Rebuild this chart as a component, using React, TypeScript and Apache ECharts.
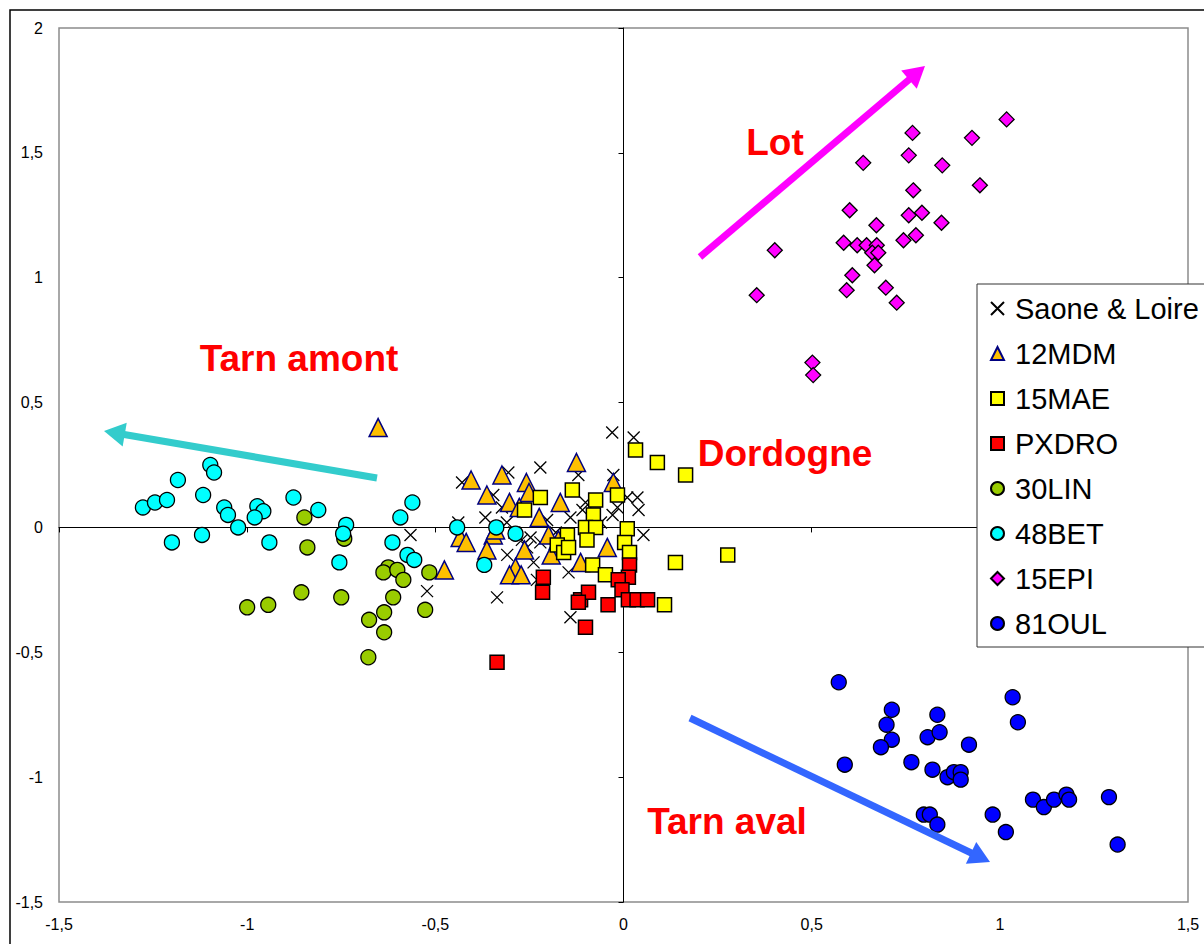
import React, { useEffect, useRef } from "react";
import * as echarts from "echarts";

const seriesNames = ["Saone & Loire", "12MDM", "15MAE", "PXDRO", "30LIN", "48BET", "15EPI", "81OUL"];

const saoneLoire = [
  [-0.03, 0.38], [0.027, 0.36], [-0.221, 0.24], [-0.306, 0.22], [-0.12, 0.21], [-0.429, 0.18], [-0.346, 0.13],
  [-0.027, 0.21], [0.037, 0.12], [0.04, 0.07], [0.01, 0.12], [-0.016, 0.08], [-0.029, 0.05], [-0.101, 0.1],
  [-0.109, 0.07], [-0.141, 0.04], [-0.203, 0.03], [-0.367, 0.04], [-0.439, 0.02], [-0.323, 0.08], [-0.247, -0.04],
  [0.053, -0.03], [-0.309, -0.11], [-0.256, -0.08], [-0.221, -0.06], [-0.239, -0.14], [-0.146, -0.18], [-0.23, -0.21],
  [-0.336, -0.28], [-0.141, -0.36], [-0.566, -0.03], [-0.522, -0.255], [-0.27, -0.05], [-0.29, -0.02], [-0.18, -0.02],
  [-0.06, 0.02], [-0.31, 0.02],
];
const mdm12 = [
  [-0.652, 0.4], [-0.405, 0.19], [-0.323, 0.21], [-0.125, 0.26], [-0.363, 0.13], [-0.303, 0.1], [-0.258, 0.18],
  [-0.251, 0.14], [-0.277, 0.08], [-0.168, 0.1], [-0.027, 0.18], [-0.224, 0.04], [-0.434, -0.04], [-0.418, -0.06],
  [-0.346, -0.03], [-0.363, -0.09], [-0.199, -0.03], [-0.263, -0.09], [-0.192, -0.11], [-0.114, -0.14], [-0.043, -0.08],
  [-0.287, -0.16], [-0.303, -0.19], [-0.272, -0.19], [-0.476, -0.17], [-0.173, -0.05], [-0.34, -0.01],
];
const mae15 = [
  [0.032, 0.31], [0.09, 0.26], [0.165, 0.21], [-0.221, 0.12], [-0.136, 0.15], [-0.263, 0.07], [-0.074, 0.11],
  [-0.08, 0.05], [-0.016, 0.13], [-0.101, 0.0], [-0.074, 0.0], [-0.097, -0.05], [-0.149, -0.03], [-0.176, -0.07],
  [-0.159, -0.1], [-0.146, -0.08], [0.01, -0.005], [0.003, -0.06], [0.016, -0.1], [-0.082, -0.15], [-0.048, -0.19],
  [0.138, -0.14], [0.109, -0.31], [0.277, -0.11],
];
const pxdro = [
  [-0.213, -0.2], [-0.215, -0.26], [-0.114, -0.29], [-0.093, -0.26], [-0.041, -0.31], [-0.101, -0.4], [-0.336, -0.54],
  [0.016, -0.15], [0.013, -0.2], [-0.014, -0.21], [-0.004, -0.25], [0.013, -0.29], [0.036, -0.29], [0.064, -0.29],
  [-0.12, -0.3],
];
const lin30 = [
  [-0.848, 0.04], [-0.84, -0.08], [-0.742, -0.045], [-0.625, -0.16], [-0.638, -0.18], [-0.601, -0.17], [-0.585, -0.21],
  [-0.516, -0.18], [-0.612, -0.28], [-0.527, -0.33], [-0.636, -0.34], [-0.676, -0.37], [-0.636, -0.42], [-0.678, -0.52],
  [-0.75, -0.28], [-0.856, -0.26], [-0.944, -0.31], [-1.0, -0.32],
];
const bet48 = [
  [-1.277, 0.08], [-1.245, 0.1], [-1.213, 0.11], [-1.184, 0.19], [-1.098, 0.25], [-1.088, 0.22], [-1.117, 0.13],
  [-1.061, 0.08], [-1.051, 0.05], [-1.024, 0.0], [-0.973, 0.085], [-0.957, 0.065], [-0.98, 0.04], [-0.877, 0.12],
  [-0.811, 0.07], [-0.737, 0.01], [-0.745, -0.025], [-1.2, -0.06], [-1.12, -0.03], [-0.941, -0.06], [-0.755, -0.14],
  [-0.614, -0.06], [-0.574, -0.11], [-0.556, -0.13], [-0.593, 0.04], [-0.561, 0.1], [-0.442, 0.0], [-0.338, 0.0],
  [-0.287, -0.025], [-0.37, -0.15],
];
const epi15 = [
  [1.018, 1.634], [0.926, 1.56], [0.768, 1.58], [0.758, 1.49], [0.637, 1.46], [0.847, 1.45], [0.947, 1.37],
  [0.77, 1.35], [0.601, 1.27], [0.758, 1.25], [0.793, 1.26], [0.845, 1.22], [0.672, 1.21], [0.777, 1.17],
  [0.744, 1.15], [0.585, 1.14], [0.621, 1.13], [0.646, 1.13], [0.673, 1.13], [0.661, 1.1], [0.677, 1.1],
  [0.402, 1.11], [0.667, 1.05], [0.608, 1.01], [0.593, 0.95], [0.697, 0.96], [0.726, 0.9], [0.354, 0.93],
  [0.502, 0.66], [0.504, 0.61],
];
const oul81 = [
  [0.572, -0.62], [0.713, -0.73], [0.699, -0.79], [0.713, -0.85], [0.684, -0.88], [0.834, -0.75], [0.808, -0.84],
  [0.84, -0.82], [0.918, -0.87], [1.034, -0.68], [1.048, -0.78], [0.588, -0.95], [0.765, -0.94], [0.821, -0.97],
  [0.861, -1.0], [0.878, -0.98], [0.896, -0.98], [0.896, -1.01], [0.798, -1.15], [0.814, -1.15], [0.834, -1.19],
  [0.981, -1.15], [1.016, -1.22], [1.088, -1.09], [1.117, -1.12], [1.144, -1.09], [1.177, -1.07], [1.184, -1.09],
  [1.29, -1.08], [1.313, -1.27],
];

const annotations = [
  { text: "Tarn amont", x: 299, y: 358 },
  { text: "Lot", x: 775, y: 142 },
  { text: "Dordogne", x: 785, y: 453 },
  { text: "Tarn aval", x: 727, y: 821 },
];

const FONT = '"Liberation Sans", Arial, sans-serif';

function arrow(x1: number, y1: number, x2: number, y2: number, color: string) {
  const w = 7, headLen = 21, headW = 12;
  const dx = x2 - x1, dy = y2 - y1;
  const L = Math.hypot(dx, dy);
  const ux = dx / L, uy = dy / L;
  const px = -uy, py = ux;
  const bx = x2 - ux * headLen, by = y2 - uy * headLen;
  return [
    { type: "line", shape: { x1, y1, x2: bx + ux * 2, y2: by + uy * 2 }, style: { stroke: color, lineWidth: w }, z: 10 },
    {
      type: "polygon",
      shape: { points: [[x2, y2], [bx + px * headW, by + py * headW], [bx - px * headW, by - py * headW]] },
      style: { fill: color },
      z: 10,
    },
  ];
}

const fmt = (v: number) => String(v).replace(".", ",");

export default function App() {
  const ref = useRef<HTMLDivElement>(null);
  useEffect(() => {
    const chart = echarts.init(ref.current!, null, { renderer: "svg" });
    const axisCommon = { type: "value", min: -1.5, max: 1.5, interval: 0.5, splitLine: { show: false } };
    const yCommon = { type: "value", min: -1.5, max: 2, interval: 0.5, splitLine: { show: false } };
    const mk = (name: string, data: number[][], symbol: string, size: number, fill: string, border: string, bw = 1.2) => ({
      name,
      type: "scatter",
      data,
      symbol,
      symbolSize: size,
      itemStyle: { color: fill, borderColor: border, borderWidth: bw, opacity: 1 },
      emphasis: { disabled: true },
    });
    chart.setOption({
      animation: false,
      backgroundColor: "#fff",
      textStyle: { fontFamily: FONT },
      grid: { left: 59, right: 16, top: 28, bottom: 42, show: true, borderColor: "#8c8c8c", borderWidth: 1.5, containLabel: false },
      xAxis: [
        {
          ...axisCommon,
          position: "bottom",
          axisLine: { show: false, onZero: false },
          axisTick: { show: false },
          axisLabel: { formatter: fmt, color: "#000", fontSize: 16, fontFamily: FONT, margin: 14 },
        },
        {
          ...axisCommon,
          position: "bottom",
          axisLine: { show: true, onZero: true, lineStyle: { color: "#000", width: 1 } },
          axisTick: { show: true, length: 5, lineStyle: { color: "#000" } },
          axisLabel: { show: false },
        },
      ],
      yAxis: [
        {
          ...yCommon,
          position: "left",
          axisLine: { show: false, onZero: false },
          axisTick: { show: false },
          axisLabel: { formatter: fmt, color: "#000", fontSize: 16, fontFamily: FONT, margin: 16 },
        },
        {
          ...yCommon,
          position: "left",
          axisLine: { show: true, onZero: true, lineStyle: { color: "#000", width: 1 } },
          axisTick: { show: true, length: 5, lineStyle: { color: "#000" } },
          axisLabel: { show: false },
        },
      ],
      legend: {
        orient: "vertical",
        left: 977,
        top: 284,
        padding: [10, 24, 9, 13],
        itemGap: 16,
        itemWidth: 13,
        itemHeight: 13,
        selectedMode: false,
        backgroundColor: "#fff",
        borderColor: "#333",
        borderWidth: 1,
        data: seriesNames,
        textStyle: { fontSize: 29, fontFamily: FONT, color: "#000", lineHeight: 28, padding: [0, 0, 0, 6] },
      },
      series: [
        mk(seriesNames[0], saoneLoire, "path://M0,0L10,10M10,0L0,10", 12, "#000", "#000", 1.3),
        mk(seriesNames[1], mdm12, "triangle", 18, "#FFC000", "#000080", 1.5),
        mk(seriesNames[2], mae15, "rect", 14, "#FFFF00", "#000", 1.5),
        mk(seriesNames[3], pxdro, "rect", 14, "#FF0000", "#000", 1.5),
        mk(seriesNames[4], lin30, "circle", 15, "#99CC00", "#000", 1.3),
        mk(seriesNames[5], bet48, "circle", 15, "#00FFFF", "#000", 1.3),
        mk(seriesNames[6], epi15, "diamond", 15, "#FF00FF", "#000", 1.3),
        mk(seriesNames[7], oul81, "circle", 15, "#0000FF", "#000", 1.3),
      ],
      graphic: [
        { type: "rect", shape: { x: 10, y: 10, width: 1210, height: 950 }, style: { fill: "none", stroke: "#000", lineWidth: 1.5 }, z: 0, silent: true },
        ...arrow(377, 478, 104, 431, "#33CCCC"),
        ...arrow(700, 257, 925, 66, "#FF00FF"),
        ...arrow(690, 718, 990, 862, "#3366FF"),
        ...annotations.map((a) => ({
          type: "text",
          x: a.x,
          y: a.y,
          z: 11,
          style: { text: a.text, fill: "#FF0000", font: `bold 37px ${FONT}`, align: "center", verticalAlign: "middle" },
        })),
      ],
    });
    return () => chart.dispose();
  }, []);
  return <div ref={ref} style={{ position: "absolute", left: 0, top: 0, width: 1204, height: 944, background: "#fff" }} />;
}
